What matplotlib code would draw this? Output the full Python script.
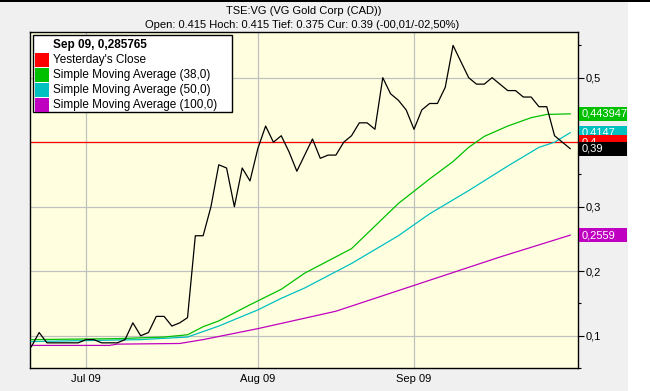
import matplotlib
matplotlib.use("Agg")
import matplotlib.pyplot as plt
from matplotlib.patches import Rectangle

plt.rcParams['font.family'] = ['Liberation Sans', 'DejaVu Sans']

# trading-day index 0 = 22 Jun 2009 ... 69 = 30 Sep 2009
close = [0.083, 0.105, 0.089, 0.089, 0.089, 0.089, 0.089, 0.094, 0.094, 0.089,
         0.089, 0.089, 0.094, 0.120, 0.100, 0.105, 0.130, 0.130, 0.115, 0.120,
         0.128, 0.255, 0.255, 0.300, 0.365, 0.360, 0.300, 0.360, 0.340, 0.390,
         0.425, 0.400, 0.410, 0.385, 0.355, 0.380, 0.405, 0.375, 0.380, 0.380,
         0.400, 0.410, 0.430, 0.430, 0.420, 0.500, 0.475, 0.465, 0.450, 0.420,
         0.450, 0.460, 0.460, 0.485, 0.550, 0.525, 0.500, 0.490, 0.490, 0.500,
         0.490, 0.480, 0.480, 0.470, 0.470, 0.455, 0.455, 0.410, 0.400, 0.390]

sma38_idx = [0, 11, 17, 20, 22, 24, 28, 29, 32, 35, 41, 47, 51, 54, 56, 58, 61, 64, 66, 69]
sma38_val = [0.094, 0.0955, 0.098, 0.1015, 0.114, 0.123, 0.148, 0.154, 0.172, 0.197, 0.235,
             0.305, 0.343, 0.370, 0.392, 0.409, 0.425, 0.438, 0.443, 0.443947]

sma50_idx = [0, 14, 20, 24, 29, 32, 35, 41, 47, 51, 56, 61, 65, 67, 69]
sma50_val = [0.091, 0.094, 0.098, 0.115, 0.140, 0.158, 0.174, 0.212, 0.255, 0.289,
             0.325, 0.363, 0.392, 0.400, 0.4147]

sma100_idx = [0, 10, 11, 19, 22, 29, 39, 44, 49, 60, 69]
sma100_val = [0.085, 0.085, 0.087, 0.088, 0.094, 0.111, 0.138, 0.158, 0.178, 0.222, 0.2559]

yesterday_close = 0.4

month_idx = [7, 29, 49]
month_labels = ["Jul 09", "Aug 09", "Sep 09"]
y_ticks = [0.1, 0.2, 0.3, 0.4, 0.5]
y_labels = ["0,1", "0,2", "0,3", "0,4", "0,5"]

C_GREEN = "#00c000"
C_CYAN = "#00c0c0"
C_RED = "#ff0000"
C_PURPLE = "#c000c0"

W, H = 650, 391
fig = plt.figure(figsize=(W / 100, H / 100), dpi=100, facecolor="#f0f0f0")

def fx(x): return x / W
def fy(y): return 1 - y / H

# white strip at the right, black band at the top
fig.add_artist(Rectangle((fx(628), 0), fx(W - 628), 1, transform=fig.transFigure,
                         facecolor="white", edgecolor="none", zorder=0))
fig.add_artist(Rectangle((0, fy(2)), 1, fy(0) - fy(2), transform=fig.transFigure,
                         facecolor="black", edgecolor="none", zorder=0))

ax = fig.add_axes([fx(30), fy(368), fx(548), fy(32) - fy(368)])
ax.set_facecolor("#ffffe0")
ax.set_xlim(-0.17, 70.0)
ax.set_ylim(0.0538, 0.5708)

ax.set_xticks(month_idx)
ax.set_xticklabels(month_labels, fontsize=8)
ax.tick_params(axis="x", length=0, pad=4)
ax.yaxis.tick_right()
ax.set_yticks(y_ticks)
ax.set_yticklabels(y_labels, fontsize=8)
ax.set_yticks([0.1 + 0.05 * k for k in range(-1, 10, 2)], minor=True)
ax.tick_params(axis="y", which="major", length=4, pad=1.5, width=0.8)
ax.tick_params(axis="y", which="minor", length=2.5, width=0.8)
ax.grid(True, color="#c0c0c0", linewidth=0.9)
ax.set_axisbelow(True)
for s in ax.spines.values():
    s.set_linewidth(1.0)
    s.set_color("black")

xs = list(range(len(close)))
ax.axhline(yesterday_close, color=C_RED, lw=0.9, zorder=2)
ax.plot(sma100_idx, sma100_val, color=C_PURPLE, lw=0.9, zorder=3)
ax.plot(sma50_idx, sma50_val, color=C_CYAN, lw=0.9, zorder=3)
ax.plot(sma38_idx, sma38_val, color=C_GREEN, lw=0.9, zorder=3)
ax.plot(xs, close, color="black", lw=0.9, zorder=4)

# value boxes on the right axis
ytr = ax.get_yaxis_transform()
box_h = 14 / 336 * (0.5708 - 0.0538)
for val, txt, col in [(sma38_val[-1], "0,443947", C_GREEN), (sma100_val[-1], "0,2559", C_PURPLE),
                      (sma50_val[-1], "0,4147", C_CYAN), (yesterday_close, "0,4", C_RED),
                      (close[-1], "0,39", "black")]:
    ax.add_patch(Rectangle((1.002, val - box_h / 2), 48 / 548, box_h, transform=ytr,
                           facecolor=col, edgecolor="none", clip_on=False, zorder=6))
    ax.text(1.006, val, txt, transform=ytr, color="white", fontsize=8,
            va="center", ha="left", clip_on=False, zorder=6)

# titles
fig.text(fx(304), fy(11), "TSE:VG (VG Gold Corp (CAD))", ha="center", va="center", fontsize=8)
fig.text(fx(302), fy(25), "Open: 0.415 Hoch: 0.415 Tief: 0.375 Cur: 0.39 (-00,01/-02,50%)",
         ha="center", va="center", fontsize=8)

# legend box
fig.add_artist(Rectangle((fx(33), fy(112)), fx(232 - 33), fy(35) - fy(112), transform=fig.transFigure,
                         facecolor="white", edgecolor="black", linewidth=1.0, zorder=7))
fig.text(fx(53), fy(45), "Sep 09, 0,285765", fontweight="bold", fontsize=8.5, va="center", zorder=8)
entries = [("Yesterday's Close", C_RED), ("Simple Moving Average (38,0)", C_GREEN),
           ("Simple Moving Average (50,0)", C_CYAN), ("Simple Moving Average (100,0)", C_PURPLE)]
for k, (lab, col) in enumerate(entries):
    yc = 60 + 15 * k
    fig.add_artist(Rectangle((fx(35), fy(yc + 7)), fx(14), fy(yc - 7) - fy(yc + 7),
                             transform=fig.transFigure, facecolor=col, edgecolor="none", zorder=8))
    fig.text(fx(53), fy(yc), lab, fontsize=8.5, va="center", zorder=8)

fig.savefig("out.png", dpi=100, facecolor=fig.get_facecolor())
